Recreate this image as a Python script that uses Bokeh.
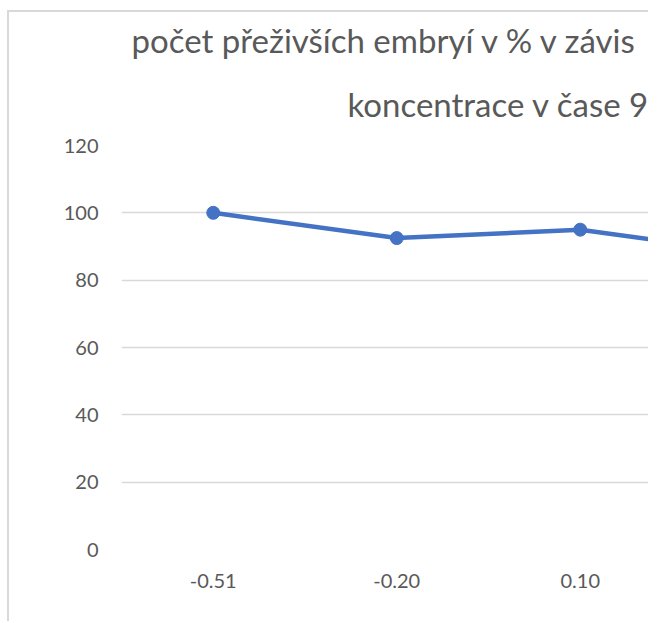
from bokeh.plotting import figure
from bokeh.models import Range1d, FixedTicker, Title, ColumnDataSource
from bokeh.embed import file_html
from bokeh.resources import INLINE

# ---- data ----
categories = ["-0.51", "-0.20", "0.10", "0.40"]
survival = [100, 92.5, 95, 87.5]
y_ticks = [0, 20, 40, 60, 80, 100, 120]
title_line1 = "počet přeživších embryí v % v závis"
title_line2 = "koncentrace v čase 9"

positions = [i + 0.5 for i in range(len(categories))]
src = ColumnDataSource(dict(x=positions, y=survival, cat=categories))

# canvas origin expected at page (9, 12)
OX, OY = 9, 12
W, H = 650 - OX, 623 - OY
FRAME_LEFT = 121 - OX
FRAME_TOP = 145 - OY
FRAME_BOTTOM = H - (549 - OY)
visible_cats = (W - FRAME_LEFT) / 183.5

p = figure(width=W, height=H, output_backend="svg", toolbar_location=None,
           x_range=Range1d(0, visible_cats), y_range=Range1d(0, 120),
           min_border_left=FRAME_LEFT, min_border_right=0,
           min_border_top=FRAME_TOP, min_border_bottom=FRAME_BOTTOM,
           background_fill_color="white", border_fill_color="white")
p.outline_line_color = None
p.margin = (OY - 2, 0, 0, OX - 2)
p.styles = {"border-left": "2px solid #d9d9d9", "border-top": "2px solid #d9d9d9"}

TICK_COLOR = "#595959"
FONT = "Lato"

p.xaxis.ticker = FixedTicker(ticks=positions)
p.xaxis.major_label_overrides = {pos: c for pos, c in zip(positions, categories)}
p.yaxis.ticker = FixedTicker(ticks=y_ticks)
for ax in (p.xaxis[0], p.yaxis[0]):
    ax.axis_line_color = None
    ax.major_tick_line_color = None
    ax.minor_tick_line_color = None
    ax.major_tick_in = 0
    ax.major_tick_out = 0
    ax.major_label_text_font = FONT
    ax.major_label_text_font_size = "20px"
    ax.major_label_text_color = TICK_COLOR
p.xaxis.major_label_standoff = 24
p.yaxis.major_label_standoff = 23

p.xgrid.grid_line_color = None
p.ygrid.grid_line_color = "#d9d9d9"
p.ygrid.grid_line_width = 1.5

p.line("x", "y", source=src, line_color="#4472C4", line_width=4.5)
p.scatter("x", "y", source=src, size=13, fill_color="#4472C4", line_color="#4472C4")

# title lines
p.add_layout(Title(text=title_line2, align="left", offset=226, standoff=44,
                   text_font=FONT, text_font_size="33px", text_color=TICK_COLOR,
                   text_font_style="normal", text_line_height=0.8), "above")
p.add_layout(Title(text=title_line1, align="left", offset=10, standoff=0,
                   text_font=FONT, text_font_size="33px", text_color=TICK_COLOR,
                   text_font_style="normal", text_line_height=0.8), "above")

open("out.html", "w").write(file_html(p, INLINE))
